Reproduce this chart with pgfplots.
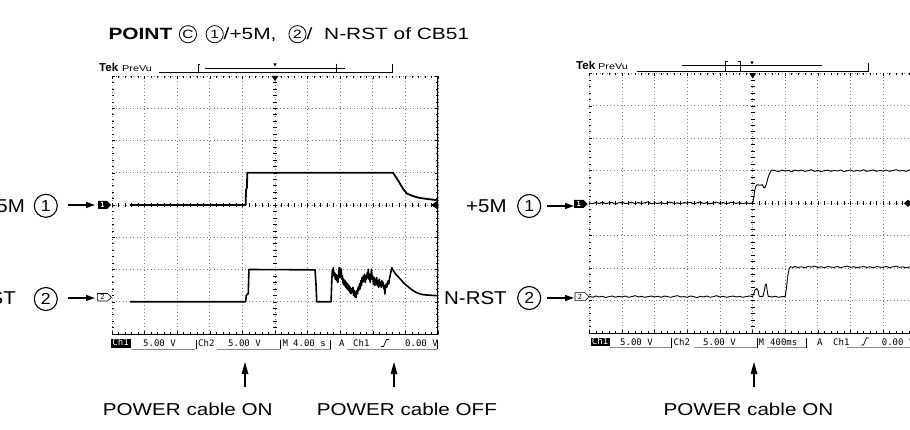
\documentclass[border=0pt]{standalone}
\usepackage{fontspec}
\usepackage{pgfplots}
\pgfplotsset{compat=1.18}
\usetikzlibrary{arrows.meta}
\setmainfont{Liberation Sans}
\newfontfamily\titlefont[FakeStretch=1.28]{Liberation Sans}
\newfontfamily\botfont[FakeStretch=1.2]{Liberation Sans}
\newfontfamily\labfont[FakeStretch=1.1]{Liberation Sans}
\newfontfamily\tekfont{DejaVu Sans Mono}

\pgfplotsset{scopeaxis/.style={
  scale only axis, xmin=0, ymin=0, ymax=8,
  xtick={0,...,10}, ytick={0,...,8},
  minor x tick num=4, minor y tick num=4,
  xticklabels={}, yticklabels={},
  tick align=inside, major tick length=3pt, minor tick length=1.8pt,
  tick style={black, line width=0.5pt},
  grid=major, major grid style={black!50, line width=0.7pt, dash pattern=on 0.7pt off 2.8pt},
  axis line style={draw=none},
  clip=true,
}}

\begin{document}
\begin{tikzpicture}[tek/.style={font=\tekfont\fontsize{9}{9}\selectfont, inner sep=0pt}]
\path[use as bounding box] (0pt,0pt) rectangle (910pt,-430pt);

% ---------------- left screen ----------------
\begin{axis}[scopeaxis, xmax=10, width=326pt, height=258pt,
  at={(112pt,-334pt)}, anchor=south west, xtick pos=both, ytick pos=both]
\pgfplotsinvokeforeach{0,0.2,...,10}{\draw[black,line width=0.5pt] (axis cs:#1,4) +(0,-2pt) -- +(0,2pt);}
\pgfplotsinvokeforeach{0,0.2,...,8}{\draw[black,line width=0.5pt] (axis cs:5,#1) +(-2pt,0) -- +(2pt,0);}
\draw[black, line width=0.7pt] (rel axis cs:0,0) -- (rel axis cs:1,0);
\draw[black, line width=1.8pt] (rel axis cs:1,0) -- (rel axis cs:1,1);
% Ch1 (+5M)
\addplot[black, line width=1.8pt, line join=round] coordinates {
(0.55,4.0) (4.10,4.0) (4.11,4.45) (4.14,4.55) (4.15,5.0) (8.62,5.0) (8.70,4.88) (8.77,4.77)
(8.83,4.67) (8.93,4.50) (9.04,4.36) (9.20,4.29) (9.35,4.24) (9.50,4.21) (9.65,4.19) (9.80,4.17) (9.96,4.15)};
% Ch2 (N-RST)
\addplot[black, line width=1.6pt, line join=round] coordinates {
(0.55,1.0) (4.10,1.0) (4.12,1.2) (4.18,1.25) (4.20,2.0) (6.20,1.99) (6.23,1.98) (6.26,1.5) (6.28,1.0) (6.72,1.0)
(6.74,1.6) (6.76,2.0) (6.78,1.85) (6.79,2.06) (6.81,1.8) (6.83,1.9) (6.85,1.7) (6.87,1.85) (6.89,1.65)
(6.91,1.8) (6.93,1.6) (6.95,1.85) (6.97,2.06) (6.99,1.75) (7.01,1.95) (7.03,2.02) (7.05,1.7) (7.07,1.8)
(7.09,1.55) (7.11,1.7) (7.13,1.5) (7.15,1.65) (7.17,1.45) (7.19,1.6) (7.21,1.4) (7.23,1.55) (7.25,1.35)
(7.27,1.5) (7.29,1.3) (7.31,1.45) (7.33,1.25) (7.35,1.4) (7.37,1.3) (7.39,1.45) (7.41,1.2) (7.43,1.35)
(7.45,1.15) (7.47,1.3) (7.49,1.13) (7.51,1.35) (7.53,1.25) (7.55,1.45) (7.57,1.35) (7.59,1.55) (7.61,1.4)
(7.63,1.65) (7.65,1.5) (7.67,1.75) (7.69,1.6) (7.71,1.8) (7.73,1.65) (7.75,1.85) (7.77,1.6) (7.79,1.8)
(7.81,1.7) (7.83,1.9) (7.85,1.75) (7.86,2.01) (7.88,1.7) (7.90,1.85) (7.92,1.6) (7.94,1.8) (7.96,2.01)
(7.98,1.7) (8.00,1.8) (8.02,1.55) (8.04,1.75) (8.06,1.5) (8.08,1.7) (8.10,1.55) (8.12,1.75) (8.14,1.5)
(8.16,1.65) (8.18,1.45) (8.20,1.7) (8.22,1.5) (8.24,1.6) (8.26,1.45) (8.28,1.65) (8.30,1.5) (8.32,1.6)
(8.34,1.4) (8.36,1.5) (8.37,1.24) (8.39,1.45) (8.41,1.55) (8.43,1.45) (8.45,1.6) (8.47,1.65) (8.49,1.55)
(8.51,1.7) (8.53,1.8) (8.56,1.95) (8.58,2.06) (8.62,1.98) (8.70,1.86) (8.83,1.72) (8.95,1.58) (9.04,1.5)
(9.15,1.41) (9.24,1.34) (9.35,1.28) (9.45,1.24) (9.55,1.22) (9.65,1.21) (9.80,1.20) (9.96,1.19)};
\end{axis}

% ---------------- right screen ----------------
\begin{axis}[scopeaxis, xmax=9.83, width=320.9pt, height=259.7pt,
  at={(589.3pt,-333pt)}, anchor=south west, xtick pos=both, ytick pos=left]
\pgfplotsinvokeforeach{0,0.2,...,9.8}{\draw[black,line width=0.5pt] (axis cs:#1,4) +(0,-2pt) -- +(0,2pt);}
\pgfplotsinvokeforeach{0,0.2,...,8}{\draw[black,line width=0.5pt] (axis cs:5,#1) +(-2pt,0) -- +(2pt,0);}
\draw[black, line width=0.7pt] (rel axis cs:0,0) -- (rel axis cs:1,0);
% Ch1 (+5M)
\addplot[black, line width=0.9pt, line join=round] coordinates {
(0.0,4.01) (0.1,3.98) (0.2,4.02) (0.3,3.99) (0.4,4.03) (0.5,3.98) (0.6,4.01) (0.7,4.02) (0.8,3.97) (0.9,4.01)
(1.0,4.03) (1.1,3.99) (1.2,4.00) (1.3,4.03) (1.4,3.98) (1.5,4.02) (1.6,3.99) (1.7,4.01) (1.8,4.04) (1.9,3.98)
(2.0,4.01) (2.1,3.99) (2.2,4.02) (2.3,3.98) (2.4,4.01) (2.5,4.03) (2.6,3.99) (2.7,4.01) (2.8,3.98) (2.9,4.02)
(3.0,4.00) (3.1,4.03) (3.2,3.98) (3.3,4.01) (3.4,4.04) (3.5,3.99) (3.6,4.02) (3.7,3.98) (3.8,4.01) (3.9,4.03)
(4.0,3.99) (4.1,4.02) (4.2,3.98) (4.3,4.01) (4.4,4.03) (4.5,3.99) (4.6,4.02) (4.7,3.98) (4.8,4.01) (4.9,3.99)
(5.0,4.01) (5.02,4.05) (5.06,4.35) (5.10,4.52) (5.15,4.57) (5.22,4.55) (5.30,4.57) (5.34,4.48) (5.38,4.47)
(5.42,4.58) (5.48,4.80) (5.55,4.98) (5.60,5.02) (5.7,5.00) (5.8,4.97) (5.9,5.02) (6.0,4.99) (6.1,5.01)
(6.2,4.97) (6.3,5.02) (6.4,4.99) (6.5,5.02) (6.6,4.98) (6.7,5.00) (6.8,5.03) (6.9,4.98) (7.0,5.01) (7.1,4.97)
(7.2,5.00) (7.3,5.02) (7.4,4.98) (7.5,5.01) (7.6,4.99) (7.7,5.02) (7.8,4.97) (7.9,5.00) (8.0,5.02) (8.1,4.98)
(8.2,5.01) (8.3,4.99) (8.4,5.03) (8.5,4.98) (8.6,5.00) (8.7,5.02) (8.8,4.98) (8.9,5.01) (9.0,4.99) (9.1,5.02)
(9.2,4.98) (9.3,5.01) (9.4,5.03) (9.5,4.99) (9.6,5.01) (9.7,4.98) (9.8,5.02) (9.9,5.00)};
% Ch2 (N-RST)
\addplot[black, line width=0.9pt, line join=round] coordinates {
(0.0,1.13) (0.1,1.10) (0.2,1.14) (0.3,1.11) (0.4,1.13) (0.5,1.09) (0.6,1.12) (0.7,1.14) (0.8,1.10) (0.9,1.13)
(1.0,1.11) (1.1,1.14) (1.2,1.10) (1.3,1.12) (1.4,1.15) (1.5,1.11) (1.6,1.13) (1.7,1.10) (1.8,1.12) (1.9,1.14)
(2.0,1.11) (2.1,1.13) (2.2,1.10) (2.3,1.14) (2.4,1.12) (2.5,1.10) (2.6,1.13) (2.7,1.15) (2.8,1.11) (2.9,1.12)
(3.0,1.10) (3.1,1.14) (3.2,1.12) (3.3,1.09) (3.4,1.13) (3.5,1.11) (3.6,1.14) (3.7,1.10) (3.8,1.12) (3.9,1.15)
(4.0,1.11) (4.1,1.13) (4.2,1.10) (4.3,1.12) (4.4,1.14) (4.5,1.11) (4.6,1.13) (4.7,1.10) (4.8,1.12) (4.9,1.14)
(5.0,1.12) (5.04,1.22) (5.08,1.33) (5.13,1.37) (5.17,1.30) (5.20,1.14) (5.25,1.12) (5.32,1.13) (5.36,1.30)
(5.39,1.48) (5.42,1.51) (5.45,1.30) (5.48,1.13) (5.6,1.11) (5.7,1.13) (5.8,1.10) (5.9,1.12) (6.0,1.12)
(6.04,1.40) (6.08,1.75) (6.12,1.98) (6.16,2.04) (6.25,2.02) (6.3,2.05) (6.4,2.02) (6.5,2.04) (6.6,2.01)
(6.7,2.05) (6.8,2.03) (6.9,2.06) (7.0,2.02) (7.1,2.04) (7.2,2.01) (7.3,2.05) (7.4,2.03) (7.5,2.02) (7.6,2.05)
(7.7,2.01) (7.8,2.04) (7.9,2.06) (8.0,2.02) (8.1,2.04) (8.2,2.01) (8.3,2.03) (8.4,2.05) (8.5,2.02) (8.6,2.04)
(8.7,2.01) (8.8,2.05) (8.9,2.03) (9.0,2.02) (9.1,2.05) (9.2,2.01) (9.3,2.04) (9.4,2.06) (9.5,2.02) (9.6,2.04)
(9.7,2.01) (9.8,2.03) (9.9,2.05)};
\end{axis}

% ---------------- annotations (pixel frame) ----------------
\begin{scope}[x=1pt,y=-1pt]
% title
\node[anchor=base west, inner sep=0pt, font=\titlefont\bfseries\fontsize{16.3}{18}\selectfont] at (108.3,40) {POINT};
\draw[line width=0.8pt] (188,34.2) circle[radius=8.6pt];
\node[inner sep=0pt, font=\titlefont\fontsize{12}{12}\selectfont] at (188,34.4) {C};
\draw[line width=0.8pt] (214.7,34.2) circle[radius=8.6pt];
\node[inner sep=0pt, font=\titlefont\fontsize{12}{12}\selectfont] at (214.7,34.4) {1};
\node[anchor=base west, inner sep=0pt, font=\titlefont\fontsize{16.3}{18}\selectfont] at (223.5,40) {/+5M,};
\draw[line width=0.8pt] (297.5,34.2) circle[radius=8.6pt];
\node[inner sep=0pt, font=\titlefont\fontsize{12}{12}\selectfont] at (297.5,34.4) {2};
\node[anchor=base west, inner sep=0pt, font=\titlefont\fontsize{16.3}{18}\selectfont] at (306.5,40) {/};
\node[anchor=base west, inner sep=0pt, font=\titlefont\fontsize{16.3}{18}\selectfont] at (324,40) {N-RST of CB51};

% Tek PreVu headers
\node[anchor=base west, inner sep=0pt, font=\bfseries\fontsize{11.5}{12}\selectfont] at (99,71.5) {Tek};
\node[anchor=base west, inner sep=0pt, font=\titlefont\fontsize{8.5}{9}\selectfont] at (122,71.5) {PreVu};
\node[anchor=base west, inner sep=0pt, font=\bfseries\fontsize{11.5}{12}\selectfont] at (576,69.5) {Tek};
\node[anchor=base west, inner sep=0pt, font=\titlefont\fontsize{8.5}{9}\selectfont] at (598,69.5) {PreVu};

% left top bar
\draw[line width=0.6pt] (159,72.7) -- (392,72.7) -- (392,64);
\draw[line width=0.6pt] (200,64) -- (198,64) -- (198,72.7);
\draw[line width=0.6pt] (205,68.3) -- (345,68.3);
\draw[line width=0.6pt] (336,64) -- (336,72.7);
\fill (273.3,63.5) -- (276.7,63.5) -- (275,66.5) -- cycle;
\fill (271.5,76) -- (278.5,76) -- (275,81) -- cycle;
% right top bar
\draw[line width=0.6pt] (636.7,71.7) -- (868.3,71.7) -- (868.3,62.7);
\draw[line width=0.6pt] (682,65.7) -- (821.7,65.7);
\draw[line width=0.6pt] (727.5,61) -- (725.7,61) -- (725.7,71.7);
\draw[line width=0.6pt] (738.2,61) -- (740,61) -- (740,71.7);
\fill (750.3,61.5) -- (753.7,61.5) -- (752,64.5) -- cycle;
\fill (749.2,73.3) -- (756.2,73.3) -- (752.7,78.3) -- cycle;

% trigger level markers on right edges
\fill (437,201) -- (437,209) -- (431,205) -- cycle;
\fill (904,203.3) -- (908,199.8) -- (912,203.3) -- (908,206.8) -- cycle;

% channel markers
\fill (98,201) -- (107,201) -- (111,205) -- (107,209) -- (98,209) -- cycle;
\node[white, inner sep=0pt, font=\tekfont\bfseries\fontsize{7}{7}\selectfont] at (102.5,205) {1};
\draw[line width=0.6pt, fill=white] (97.7,293.5) -- (107.5,293.5) -- (111.5,297.3) -- (107.5,301) -- (97.7,301) -- cycle;
\node[inner sep=0pt, font=\tekfont\fontsize{7}{7}\selectfont] at (102.6,297.3) {2};
\fill (574,200) -- (583.5,200) -- (587.5,204) -- (583.5,208) -- (574,208) -- cycle;
\node[white, inner sep=0pt, font=\tekfont\bfseries\fontsize{7}{7}\selectfont] at (578.8,204) {1};
\draw[line width=0.6pt, fill=white] (575,292.7) -- (585,292.7) -- (589,296.7) -- (585,300.7) -- (575,300.7) -- cycle;
\node[inner sep=0pt, font=\tekfont\fontsize{7}{7}\selectfont] at (580,296.7) {2};

% channel labels
\node[anchor=base east, inner sep=0pt, font=\labfont\fontsize{18.6}{20}\selectfont] at (25,212.5) {+5M};
\draw[line width=1.1pt] (45.8,205.8) circle[radius=11.5pt];
\node[inner sep=0pt, font=\labfont\fontsize{16}{17}\selectfont] at (45.8,206) {1};
\draw[line width=1.2pt, -{Triangle[length=9pt,width=6pt]}] (68,205) -- (95,205);
\node[anchor=base east, inner sep=0pt, font=\labfont\fontsize{18.6}{20}\selectfont] at (16,305) {N-RST};
\draw[line width=1.1pt] (45.8,299) circle[radius=11.5pt];
\node[inner sep=0pt, font=\labfont\fontsize{16}{17}\selectfont] at (45.8,299.2) {2};
\draw[line width=1.2pt, -{Triangle[length=9pt,width=6pt]}] (68,298) -- (95,298);

\node[anchor=base west, inner sep=0pt, font=\labfont\fontsize{18.6}{20}\selectfont] at (466,213) {+5M};
\draw[line width=1.1pt] (529.2,206) circle[radius=11.5pt];
\node[inner sep=0pt, font=\labfont\fontsize{16}{17}\selectfont] at (529.2,206.2) {1};
\draw[line width=1.2pt, -{Triangle[length=9pt,width=6pt]}] (546.7,206) -- (574,206);
\node[anchor=base west, inner sep=0pt, font=\labfont\fontsize{18.6}{20}\selectfont] at (444,305) {N-RST};
\draw[line width=1.1pt] (529.2,298) circle[radius=11.5pt];
\node[inner sep=0pt, font=\labfont\fontsize{16}{17}\selectfont] at (529.2,298.2) {2};
\draw[line width=1.2pt, -{Triangle[length=9pt,width=6pt]}] (546.7,298) -- (574,298);

% left status bar
\fill (110.7,339) rectangle (130.5,347.5);
\node[tek, white, anchor=base] at (120.6,345.8) {Ch1};
\node[tek, anchor=base west] at (143,346.5) {5.00 V};
\draw[black!45, line width=0.9pt] (131.7,349) -- (195,349);
\draw[line width=0.5pt] (196,339.5) -- (196,349);
\node[tek, anchor=base west] at (198,346.5) {Ch2};
\node[tek, anchor=base west] at (228,346.5) {5.00 V};
\draw[black!45, line width=0.9pt] (216.7,349) -- (280,349);
\draw[line width=0.5pt] (280.7,339.5) -- (280.7,349);
\node[tek, anchor=base west] at (282.5,346.5) {M};
\node[tek, anchor=base west] at (293,346.5) {4.00 s};
\draw[black!45, line width=0.9pt] (290,349) -- (330.7,349);
\draw[line width=0.5pt] (330.7,339.5) -- (330.7,349);
\node[tek, anchor=base west] at (339,346.5) {A};
\node[tek, anchor=base west] at (353,346.5) {Ch1};
\draw[line width=0.7pt] (381,346.5) -- (383.5,346.5) -- (386.5,339.5) -- (389,339.5);
\node[tek, anchor=base west] at (405,346.5) {0.00 V};
\draw[black!45, line width=0.9pt] (347,349) -- (437,349);
\draw[line width=0.5pt] (437,339.5) -- (437,349);

% right status bar
\fill (590.7,337.5) rectangle (609.5,346);
\node[tek, white, anchor=base] at (600.1,344.3) {Ch1};
\node[tek, anchor=base west] at (620,345) {5.00 V};
\draw[black!45, line width=0.9pt] (610,347.5) -- (671,347.5);
\draw[line width=0.5pt] (671.7,338) -- (671.7,347.5);
\node[tek, anchor=base west] at (673.5,345) {Ch2};
\node[tek, anchor=base west] at (703,345) {5.00 V};
\draw[black!45, line width=0.9pt] (694,347.5) -- (756.5,347.5);
\draw[line width=0.5pt] (757,338) -- (757,347.5);
\node[tek, anchor=base west] at (758.5,345) {M};
\node[tek, anchor=base west] at (770,345) {400ms};
\draw[black!45, line width=0.9pt] (767,347.5) -- (806,347.5);
\draw[line width=0.5pt] (806,338) -- (806,347.5);
\node[tek, anchor=base west] at (817,345) {A};
\node[tek, anchor=base west] at (833,345) {Ch1};
\draw[line width=0.7pt] (861,345) -- (863.5,345) -- (866.5,338) -- (869,338);
\node[tek, anchor=base west] at (881.7,345) {0.00 V};
\draw[black!45, line width=0.9pt] (847,347.5) -- (915,347.5);

% bottom arrows and captions
\draw[line width=1.2pt, -{Triangle[length=12pt,width=6.5pt]}] (245,387) -- (245,362);
\draw[line width=1.2pt, -{Triangle[length=12pt,width=6.5pt]}] (394,387) -- (394,362);
\draw[line width=1.2pt, -{Triangle[length=12pt,width=6.5pt]}] (754,387) -- (754,362);
\node[anchor=base west, inner sep=0pt, font=\botfont\fontsize{17.2}{19}\selectfont] at (102.7,415) {POWER cable ON};
\node[anchor=base west, inner sep=0pt, font=\botfont\fontsize{17.2}{19}\selectfont] at (316.7,415) {POWER cable OFF};
\node[anchor=base west, inner sep=0pt, font=\botfont\fontsize{17.2}{19}\selectfont] at (663.3,415) {POWER cable ON};
\end{scope}
\end{tikzpicture}
\end{document}
